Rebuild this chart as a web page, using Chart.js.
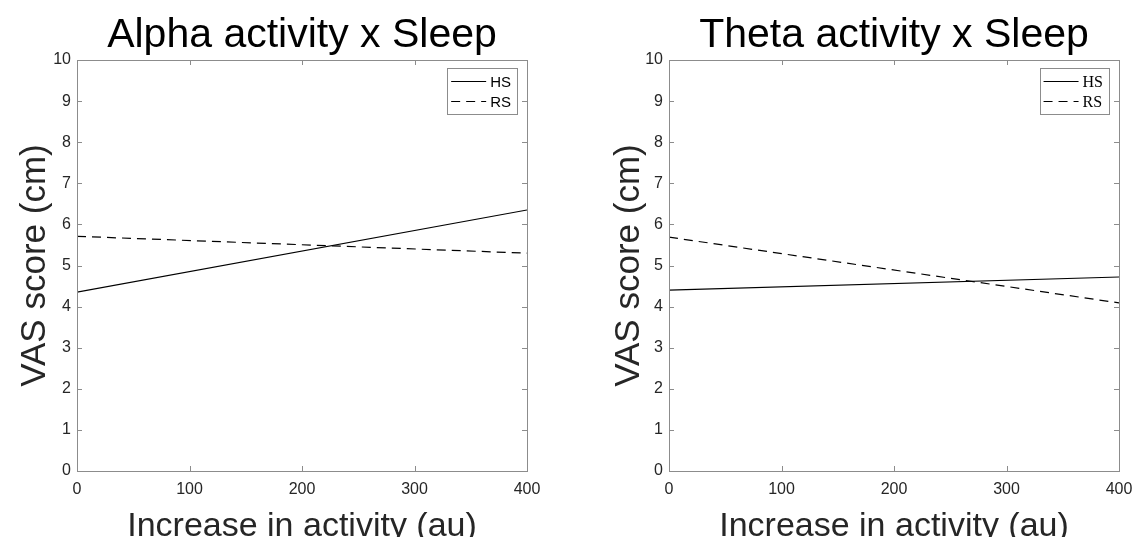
<!DOCTYPE html>
<html>
<head>
<meta charset="utf-8">
<script src="https://cdn.jsdelivr.net/npm/chart.js@4/dist/chart.umd.min.js"></script>
<style>
html, body { margin: 0; padding: 0; background: #fff; overflow: hidden; }
.panel { position: absolute; top: 0; height: 560px; }
#leftPanel { left: 0; width: 568px; }
/* a little wider than the window: the last x label needs room, the extra is clipped */
#rightPanel { left: 568px; width: 574px; }
</style>
</head>
<body>
<div class="panel" id="leftPanel"><canvas id="alphaChart"></canvas></div>
<div class="panel" id="rightPanel"><canvas id="thetaChart"></canvas></div>
<script>
// Fitted lines (endpoints at 0 and 400 au)
const activityX = [0, 400];
const alphaHS = [4.35, 6.35];
const alphaRS = [5.71, 5.30];
const thetaHS = [4.40, 4.72];
const thetaRS = [5.69, 4.09];
const seriesLabels = ['HS', 'RS'];
const xTicks = [0, 100, 200, 300, 400];
const yTicks = [0, 1, 2, 3, 4, 5, 6, 7, 8, 9, 10];

const SANS = '"Liberation Sans", Arial, Helvetica, sans-serif';
const SERIF = '"Liberation Serif", "Times New Roman", serif';
const TEXT = '#262626';
const AXIS = '#8c8c8c';

function toPoints(values) {
    return values.map((v, i) => ({ x: activityX[i], y: v }));
}

// Box round the plot area with small inward ticks on all four sides
const boxAxes = {
    id: 'boxAxes',
    afterDatasetsDraw(chart) {
        const { ctx, chartArea: a, scales } = chart;
        const len = 5;
        ctx.save();
        ctx.strokeStyle = AXIS;
        ctx.lineWidth = 1;
        ctx.strokeRect(a.left + 0.5, a.top + 0.5, a.right - a.left, a.bottom - a.top);
        ctx.beginPath();
        xTicks.forEach(t => {
            const px = Math.round(scales.x.getPixelForValue(t)) + 0.5;
            ctx.moveTo(px, a.bottom); ctx.lineTo(px, a.bottom - len);
            ctx.moveTo(px, a.top); ctx.lineTo(px, a.top + len);
        });
        yTicks.forEach(t => {
            const py = Math.round(scales.y.getPixelForValue(t)) + 0.5;
            ctx.moveTo(a.left, py); ctx.lineTo(a.left + len, py);
            ctx.moveTo(a.right, py); ctx.lineTo(a.right - len, py);
        });
        ctx.stroke();
        ctx.restore();
    }
};

// Title centred over the plot area
const plotTitle = {
    id: 'plotTitle',
    afterDraw(chart, args, opts) {
        const { ctx, chartArea: a } = chart;
        ctx.save();
        ctx.fillStyle = '#000';
        ctx.font = '41px ' + SANS;
        ctx.textAlign = 'center';
        ctx.textBaseline = 'alphabetic';
        ctx.fillText(opts.text, (a.left + a.right) / 2, 47);
        ctx.restore();
    }
};

// MATLAB-like legend box in the top right corner of the plot area
const boxLegend = {
    id: 'boxLegend',
    afterDraw(chart, args, opts) {
        const { ctx, chartArea: a } = chart;
        const sets = chart.data.datasets;
        ctx.save();
        ctx.font = opts.font;
        const textW = Math.max(...sets.map(d => ctx.measureText(d.label).width));
        const lineLen = 35, pad = 4, gap = 4, rowH = 20;
        const w = pad + lineLen + gap + textW + pad + 2;
        const h = rowH * sets.length + 6;
        const x0 = a.right - 10 - w;
        const y0 = a.top + 8;
        ctx.fillStyle = '#fff';
        ctx.fillRect(x0, y0, w, h);
        ctx.strokeStyle = AXIS;
        ctx.lineWidth = 1;
        ctx.strokeRect(Math.round(x0) + 0.5, y0 + 0.5, Math.round(w), h);
        sets.forEach((d, i) => {
            const cy = y0 + 13.5 + i * rowH;
            ctx.strokeStyle = '#000';
            ctx.lineWidth = 1;
            ctx.setLineDash(d.borderDash || []);
            ctx.beginPath();
            ctx.moveTo(x0 + pad, cy);
            ctx.lineTo(x0 + pad + lineLen, cy);
            ctx.stroke();
            ctx.setLineDash([]);
            ctx.fillStyle = '#000';
            ctx.textAlign = 'left';
            ctx.textBaseline = 'middle';
            ctx.fillText(d.label, x0 + pad + lineLen + gap, cy + 1);
        });
        ctx.restore();
    }
};

function makeChart(canvasId, title, hs, rs, cfg) {
    const ctx = document.getElementById(canvasId).getContext('2d');
    return new Chart(ctx, {
        type: 'line',
        data: {
            datasets: [
                {
                    label: seriesLabels[0],
                    data: toPoints(hs),
                    borderColor: '#000',
                    borderWidth: 1.2,
                    pointRadius: 0,
                    fill: false
                },
                {
                    label: seriesLabels[1],
                    data: toPoints(rs),
                    borderColor: '#000',
                    borderWidth: 1.2,
                    borderDash: [9, 6],
                    pointRadius: 0,
                    fill: false
                }
            ]
        },
        plugins: [boxAxes, plotTitle, boxLegend],
        options: {
            responsive: true,
            maintainAspectRatio: false,
            animation: false,
            layout: {
                padding: { left: 0, right: cfg.padRight, top: 60, bottom: 0 }
            },
            plugins: {
                legend: { display: false },
                tooltip: { enabled: false },
                plotTitle: { text: title },
                boxLegend: { font: cfg.legendFont }
            },
            scales: {
                x: {
                    type: 'linear',
                    min: 0,
                    max: 400,
                    afterBuildTicks: s => { s.ticks = xTicks.map(v => ({ value: v })); },
                    afterFit: s => { s.height = 89; },
                    grid: { display: false, drawTicks: false },
                    border: { display: false },
                    ticks: {
                        color: TEXT,
                        padding: 9,
                        maxRotation: 0,
                        font: { family: SANS, size: 16 }
                    },
                    title: {
                        display: true,
                        text: 'Increase in activity (au)',
                        color: TEXT,
                        font: { family: SANS, size: 34 },
                        padding: { top: 0, bottom: 13 }
                    }
                },
                y: {
                    type: 'linear',
                    min: 0,
                    max: 10,
                    afterBuildTicks: s => { s.ticks = yTicks.map(v => ({ value: v })); },
                    afterFit: s => { s.width = cfg.yWidth; },
                    grid: { display: false, drawTicks: false },
                    border: { display: false },
                    ticks: {
                        color: TEXT,
                        padding: 6,
                        font: { family: SANS, size: 16 }
                    },
                    title: {
                        display: true,
                        text: 'VAS score (cm)',
                        color: TEXT,
                        font: { family: SANS, size: 35 },
                        padding: { top: cfg.yTitlePad, bottom: 0 }
                    }
                }
            }
        }
    });
}

document.addEventListener('DOMContentLoaded', () => {
    makeChart('alphaChart', 'Alpha activity x Sleep', alphaHS, alphaRS,
        { padRight: 41, yWidth: 77, yTitlePad: 14, legendFont: '15px ' + SANS });
    makeChart('thetaChart', 'Theta activity x Sleep', thetaHS, thetaRS,
        { padRight: 23, yWidth: 101, yTitlePad: 40, legendFont: '16px ' + SERIF });
});
</script>
</body>
</html>
